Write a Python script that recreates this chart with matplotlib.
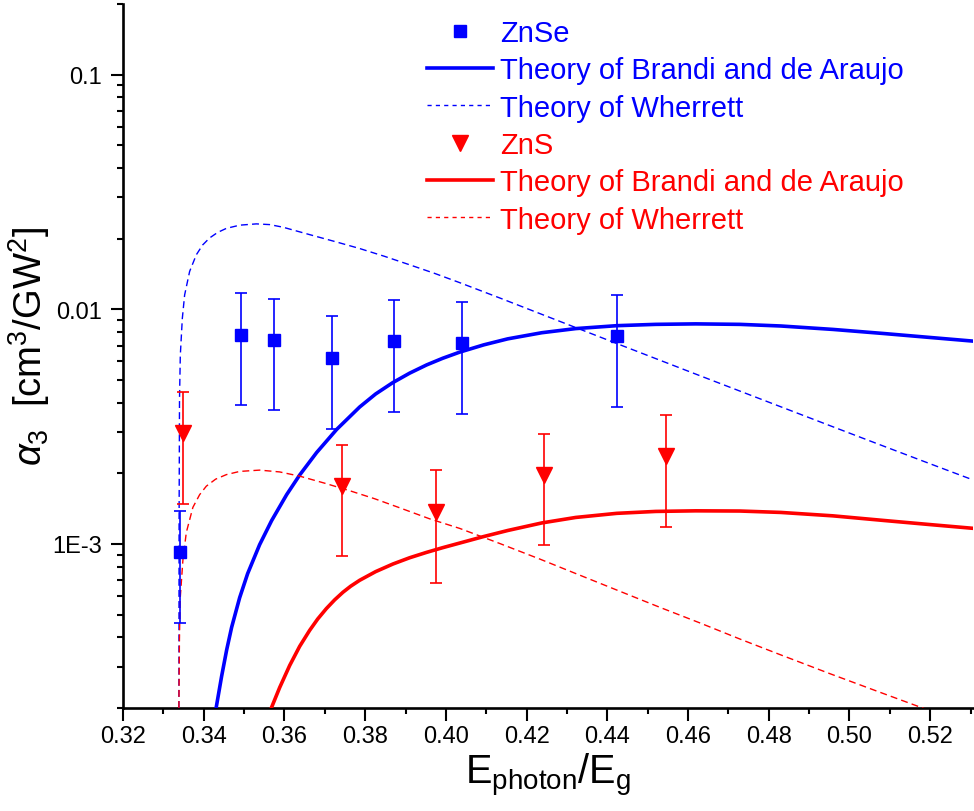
import matplotlib
matplotlib.use("Agg")
import matplotlib.pyplot as plt
from matplotlib.lines import Line2D
from matplotlib.ticker import FixedLocator, FixedFormatter, LogLocator, MultipleLocator, NullFormatter, FormatStrFormatter

FACE = 'Liberation Sans'
plt.rcParams['font.family'] = [FACE, 'DejaVu Sans']
plt.rcParams['mathtext.fontset'] = 'custom'
plt.rcParams['mathtext.rm'] = FACE
plt.rcParams['mathtext.it'] = FACE + ':italic'
plt.rcParams['mathtext.bf'] = FACE + ':bold'

# ---- measured three-photon absorption coefficients ----
x_znse = [0.3342, 0.3493, 0.3574, 0.3717, 0.3871, 0.4040, 0.4425]
a_znse = [9.2e-4, 7.8e-3, 7.41e-3, 6.23e-3, 7.3e-3, 7.19e-3, 7.7e-3]
err_znse = [4.6e-4, 3.9e-3, 3.7e-3, 3.13e-3, 3.65e-3, 3.6e-3, 3.85e-3]

x_zns = [0.3348, 0.3743, 0.3975, 0.4242, 0.4545]
a_zns = [2.97e-3, 1.77e-3, 1.37e-3, 1.97e-3, 2.36e-3]
err_zns = [1.49e-3, 0.88e-3, 0.69e-3, 0.98e-3, 1.18e-3]

# ---- theory curves ----
x_bda_znse = [0.34307, 0.34444, 0.34568, 0.34691, 0.34890, 0.35088, 0.35385, 0.35683,
              0.36055, 0.36377, 0.36798, 0.37294, 0.37864, 0.38260, 0.38682, 0.39103,
              0.39524, 0.39921, 0.40342, 0.40937, 0.41532, 0.42375, 0.43217, 0.44233,
              0.45200, 0.46191, 0.47282, 0.48298, 0.49587, 0.50851, 0.51991, 0.53082]
y_bda_znse = [2.00e-4, 2.734e-4, 3.534e-4, 4.411e-4, 5.901e-4, 7.475e-4, 9.931e-4, 1.2583e-3,
              1.6228e-3, 1.9668e-3, 2.4531e-3, 3.0773e-3, 3.835e-3, 4.358e-3, 4.868e-3, 5.346e-3,
              5.796e-3, 6.185e-3, 6.569e-3, 7.054e-3, 7.483e-3, 7.947e-3, 8.276e-3, 8.516e-3,
              8.627e-3, 8.668e-3, 8.627e-3, 8.490e-3, 8.210e-3, 7.885e-3, 7.587e-3, 7.314e-3]

x_wh_znse = [0.33385, 0.33390, 0.33400, 0.33420, 0.33470, 0.33527, 0.33651, 0.33817,
             0.33973, 0.34146, 0.34345, 0.34560, 0.34890, 0.35304, 0.35633, 0.35963,
             0.36625, 0.37244, 0.37864, 0.38483, 0.39103, 0.39723, 0.40342, 0.41333,
             0.42325, 0.43316, 0.44307, 0.45299, 0.46290, 0.47281, 0.48297, 0.49512,
             0.50751, 0.51990, 0.53056]
y_wh_znse = [2.0e-4, 1.2732e-3, 4.157e-3, 6.370e-3, 9.151e-3, 0.011513, 0.014506, 0.017081,
             0.018797, 0.020141, 0.021262, 0.022121, 0.022831, 0.023121, 0.022962, 0.022383,
             0.020807, 0.019458, 0.018156, 0.016810, 0.015475, 0.014222, 0.012990, 0.011180,
             9.594e-3, 8.234e-3, 7.068e-3, 6.072e-3, 5.216e-3, 4.485e-3, 3.843e-3, 3.195e-3,
             2.649e-3, 2.199e-3, 1.876e-3]

x_bda_zns = [0.35675, 0.35881, 0.36129, 0.36377, 0.36625, 0.36823, 0.37038, 0.37244,
             0.37450, 0.37641, 0.37864, 0.38260, 0.38689, 0.39103, 0.39517, 0.39921,
             0.40342, 0.40937, 0.41532, 0.42384, 0.43217, 0.44233, 0.45200, 0.46191,
             0.47282, 0.48298, 0.49587, 0.50851, 0.51991, 0.53082]
y_bda_zns = [2.0e-4, 2.443e-4, 3.034e-4, 3.662e-4, 4.286e-4, 4.787e-4, 5.304e-4, 5.779e-4,
             6.228e-4, 6.607e-4, 7.003e-4, 7.624e-4, 8.217e-4, 8.737e-4, 9.204e-4, 9.643e-4,
             1.0090e-3, 1.0757e-3, 1.1414e-3, 1.2300e-3, 1.2973e-3, 1.3506e-3, 1.3763e-3, 1.3843e-3,
             1.3817e-3, 1.3628e-3, 1.3180e-3, 1.2594e-3, 1.2098e-3, 1.1651e-3]

x_wh_zns = [0.33385, 0.33398, 0.33415, 0.33445, 0.33485, 0.33569, 0.33732, 0.33898,
            0.34064, 0.34295, 0.34560, 0.34890, 0.35385, 0.35881, 0.36377, 0.36996,
            0.37616, 0.38235, 0.38855, 0.39599, 0.40342, 0.41333, 0.42325, 0.43316,
            0.44307, 0.45299, 0.46290, 0.47281, 0.48273, 0.49512, 0.50751, 0.51866,
            0.53056]
y_wh_zns = [2.0e-4, 3.899e-4, 5.785e-4, 6.841e-4, 8.584e-4, 1.1202e-3, 1.4331e-3, 1.6213e-3,
            1.7631e-3, 1.8888e-3, 1.9746e-3, 2.0378e-3, 2.0642e-3, 2.0279e-3, 1.9457e-3, 1.8158e-3,
            1.6866e-3, 1.5587e-3, 1.4262e-3, 1.2796e-3, 1.1651e-3, 1.0049e-3, 8.627e-4, 7.365e-4,
            6.290e-4, 5.373e-4, 4.611e-4, 3.937e-4, 3.380e-4, 2.802e-4, 2.335e-4, 1.984e-4,
            1.670e-4]

x_ticks = [0.32, 0.34, 0.36, 0.38, 0.40, 0.42, 0.44, 0.46, 0.48, 0.50, 0.52]
y_ticks = [1e-3, 1e-2, 1e-1]
y_tick_labels = ['1E-3', '0.01', '0.1']

legend_labels = ['ZnSe', 'Theory of Brandi and de Araujo', 'Theory of Wherrett',
                 'ZnS', 'Theory of Brandi and de Araujo', 'Theory of Wherrett']

BLUE = '#0000ff'
RED = '#ff0000'
DASH = (0, (5, 3))

fig = plt.figure(figsize=(9.74, 8.12), dpi=100)
ax = fig.add_axes([123 / 974, 103 / 812, 850 / 974, 704 / 812])

ax.plot(x_bda_znse, y_bda_znse, color=BLUE, lw=2.6, zorder=3)
ax.plot(x_wh_znse, y_wh_znse, color=BLUE, lw=1.0, ls=DASH, zorder=3)
ax.plot(x_bda_zns, y_bda_zns, color=RED, lw=2.6, zorder=3)
ax.plot(x_wh_zns, y_wh_zns, color=RED, lw=1.0, ls=DASH, zorder=3)

ax.errorbar(x_znse, a_znse, yerr=err_znse, fmt='s', color=BLUE, ms=9,
            ecolor=BLUE, elinewidth=1.2, capsize=4.2, capthick=1.2, zorder=4)
ax.errorbar(x_zns, a_zns, yerr=err_zns, fmt='v', color=RED, ms=12,
            ecolor=RED, elinewidth=1.2, capsize=4.2, capthick=1.2, zorder=4)

ax.set_yscale('log')
ax.set_xlim(0.32, 0.5306)
ax.set_ylim(2e-4, 0.2)

ax.xaxis.set_major_locator(FixedLocator(x_ticks))
ax.xaxis.set_major_formatter(FormatStrFormatter('%.2f'))
ax.xaxis.set_minor_locator(MultipleLocator(0.01))
ax.yaxis.set_major_locator(FixedLocator(y_ticks))
ax.yaxis.set_major_formatter(FixedFormatter(y_tick_labels))
ax.yaxis.set_minor_locator(LogLocator(base=10, subs=range(2, 10)))
ax.yaxis.set_minor_formatter(NullFormatter())

for side in ('top', 'right'):
    ax.spines[side].set_visible(False)
for side in ('left', 'bottom'):
    ax.spines[side].set_linewidth(1.9)

ax.tick_params(which='major', direction='out', length=9, width=1.5, labelsize=17)
ax.tick_params(which='minor', direction='out', length=4.5, width=1.5)
ax.tick_params(axis='x', which='major', pad=3)
ax.tick_params(axis='y', which='major', pad=6)

ax.set_xlabel(r'E$_{\mathregular{photon}}$/E$_{\mathregular{g}}$', fontsize=28.5, labelpad=3)
ax.set_ylabel(r'$\alpha_3$  [cm$^3$/GW$^2$]', fontsize=27.5)
ax.yaxis.set_label_coords(-0.084, 0.515)

handles = [
    Line2D([], [], ls='none', marker='s', color=BLUE, ms=9),
    Line2D([], [], color=BLUE, lw=2.6),
    Line2D([], [], color=BLUE, lw=1.0, ls=(0, (3, 3))),
    Line2D([], [], ls='none', marker='v', color=RED, ms=12),
    Line2D([], [], color=RED, lw=2.6),
    Line2D([], [], color=RED, lw=1.0, ls=(0, (3, 3))),
]
colors = [BLUE, BLUE, BLUE, RED, RED, RED]
fs_leg = 21
em = fs_leg * 100 / 72
leg = ax.legend(handles, legend_labels, loc='upper left', bbox_to_anchor=(0.3576, 0.9787),
                frameon=False, fontsize=fs_leg, handlelength=66 / em,
                handletextpad=7 / em, labelspacing=0.32,
                borderpad=0, borderaxespad=0, numpoints=1)
for txt, c in zip(leg.get_texts(), colors):
    txt.set_color(c)

fig.savefig('out.png', dpi=100)
